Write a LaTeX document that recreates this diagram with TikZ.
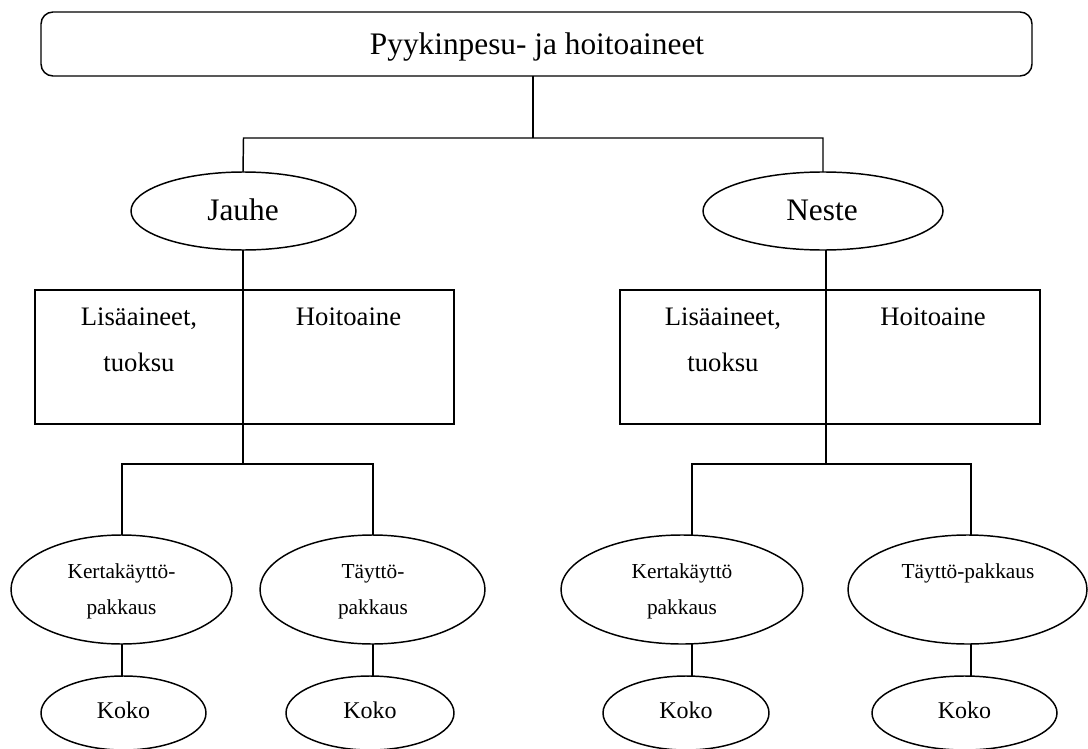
\documentclass[tikz,border=0pt]{standalone}
\usepackage{fontspec}
\setmainfont{Liberation Serif}
\usetikzlibrary{shapes.geometric}
\begin{document}
\begin{tikzpicture}[x=0.75pt,y=-0.75pt,
  line width=1.1pt,
  ell/.style={draw, ellipse, inner sep=0pt, outer sep=0pt},
  boxnode/.style={draw, rectangle, inner sep=0pt, outer sep=0pt},
  lbl/.style={anchor=base, inner sep=0pt},
  big/.style={lbl, font=\fontsize{23.5}{28}\selectfont},
  mid/.style={lbl, font=\fontsize{20}{24}\selectfont},
  small/.style={lbl, font=\fontsize{16}{19}\selectfont},
  koko/.style={lbl, font=\fontsize{18}{21}\selectfont}]
\useasboundingbox (0,0) rectangle (1088,749);
% shapes
\node[boxnode, rounded corners=9pt, minimum width=743.25pt, minimum height=48pt] (top) at (536.5,44) {};
\node[ell, minimum width=168.75pt, minimum height=58.5pt] (jauhe) at (243.5,211) {};
\node[ell, minimum width=180pt, minimum height=58.5pt] (neste) at (823,211) {};
\node[boxnode, minimum width=314.25pt, minimum height=100.5pt] (lbox) at (244.5,357) {};
\node[boxnode, minimum width=315pt, minimum height=100.5pt] (rbox) at (830,357) {};
\node[ell, minimum width=165.75pt, minimum height=81.75pt] (l1) at (121.5,589.5) {};
\node[ell, minimum width=168.75pt, minimum height=81.75pt] (l2) at (372.5,589.5) {};
\node[ell, minimum width=181.5pt, minimum height=81.75pt] (r1) at (682,589.5) {};
\node[ell, minimum width=179.25pt, minimum height=81.75pt] (r2) at (967.5,589.5) {};
\node[ell, minimum width=123.75pt, minimum height=55.5pt] (k1) at (123.5,713) {};
\node[ell, minimum width=126pt, minimum height=55.5pt] (k2) at (370,713) {};
\node[ell, minimum width=124.5pt, minimum height=55.5pt] (k3) at (686,713) {};
\node[ell, minimum width=138.75pt, minimum height=55.5pt] (k4) at (964.5,713) {};
% texts
\node[big] (ttitle) at (537,55) {Pyykinpesu- ja hoitoaineet};
\node[big] (tjauhe) at (243,220.5) {Jauhe};
\node[big] (tneste) at (822,220.5) {Neste};
\node[mid] (tl1) at (139,325) {Lisäaineet,};
\node[mid] (tl2) at (139,371) {tuoksu};
\node[mid] (tl3) at (348.5,325) {Hoitoaine};
\node[mid] (tr1) at (723,325) {Lisäaineet,};
\node[mid] (tr2) at (723,371) {tuoksu};
\node[mid] (tr3) at (933,325) {Hoitoaine};
\node[small] (ta1) at (121.5,578) {Kertakäyttö-};
\node[small] (ta2) at (121.5,614) {pakkaus};
\node[small] (tb1) at (373,578) {Täyttö-};
\node[small] (tb2) at (373,614) {pakkaus};
\node[small] (tc1) at (682,578) {Kertakäyttö};
\node[small] (tc2) at (682,614) {pakkaus};
\node[small] (td1) at (968,578) {Täyttö-pakkaus};
\node[koko] (tk1) at (123.5,718.5) {Koko};
\node[koko] (tk2) at (370,718.5) {Koko};
\node[koko] (tk3) at (686,718.5) {Koko};
\node[koko] (tk4) at (964.5,718.5) {Koko};
% junction coordinates
\coordinate (tc) at (533,138);
\coordinate (jl) at (243,464);
\coordinate (ja) at (122,464);
\coordinate (jb) at (373,464);
\coordinate (nj) at (826,464);
\coordinate (nc) at (692,464);
\coordinate (nd) at (971,464);
% connectors
\draw (top.south -| tc) -- (tc);
\draw (jauhe.north -| jl) -- (jauhe.north |- tc) -- (neste.north |- tc) -- (neste.north);
\draw (jauhe.south -| jl) -- (jl);
\draw (neste.south -| nj) -- (nj);
\draw (l1.north -| ja) -- (ja) -- (jb) -- (l2.north -| jb);
\draw (r1.north -| nc) -- (nc) -- (nd) -- (r2.north -| nd);
\draw (l1.south -| ja) -- (k1.north -| ja);
\draw (l2.south -| jb) -- (k2.north -| jb);
\draw (r1.south -| nc) -- (k3.north -| nc);
\draw (r2.south -| nd) -- (k4.north -| nd);
\end{tikzpicture}
\end{document}
